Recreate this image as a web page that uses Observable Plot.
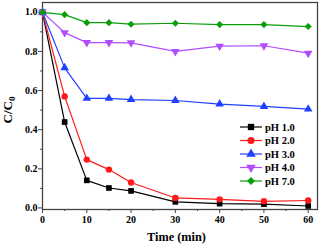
<!DOCTYPE html>
<html><head><meta charset="utf-8">
<script src="https://cdn.jsdelivr.net/npm/d3@7"></script>
<script src="https://cdn.jsdelivr.net/npm/@observablehq/plot@0.6"></script>
<style>
body{margin:0;background:#fff;}
#chart{position:relative;width:319px;height:247px;}
svg text{font-family:"Liberation Serif","Times New Roman",serif;font-weight:bold;}
</style></head><body><div id="chart"></div>
<script>
const times = [0, 5, 10, 15, 20, 30, 40, 50, 60];
const seriesNames = ["pH 1.0", "pH 2.0", "pH 3.0", "pH 4.0", "pH 7.0"];
const ph1 = [1.0, 0.439, 0.141, 0.102, 0.087, 0.031, 0.022, 0.019, 0.010];
const ph2 = [1.0, 0.570, 0.247, 0.196, 0.130, 0.051, 0.044, 0.034, 0.038];
const ph3 = [1.0, 0.716, 0.560, 0.560, 0.554, 0.549, 0.531, 0.519, 0.505];
const ph4 = [1.0, 0.896, 0.845, 0.845, 0.844, 0.800, 0.827, 0.829, 0.791];
const ph7 = [1.0, 0.988, 0.947, 0.947, 0.939, 0.944, 0.937, 0.937, 0.927];
const colors = ["#000000", "#ff1a1a", "#2040ff", "#b04dff", "#0a9f0a"];
const symbols = ["square", "circle", "triangle", "triangle", "diamond2"];
const rotations = [0, 0, 0, 180, 0];
const xTicks = [0, 10, 20, 30, 40, 50, 60];
const xMinor = [5, 15, 25, 35, 45, 55];
const yTicks = [0.0, 0.2, 0.4, 0.6, 0.8, 1.0];
const yMinor = [0.1, 0.3, 0.5, 0.7, 0.9];

const allSeries = [ph1, ph2, ph3, ph4, ph7];
const data = [];
allSeries.forEach((vals, si) => vals.forEach((v, i) => data.push({t: times[i], c: v, s: seriesNames[si]})));

const svg = Plot.plot({
  width: 319, height: 247,
  marginLeft: 42, marginTop: 2, marginRight: 2, marginBottom: 38,
  style: {fontFamily: '"Liberation Serif","Times New Roman",serif', fontWeight: "bold", fontSize: "10px", color: "#000", background: "#fff"},
  x: {domain: [0, 62.1]},
  y: {domain: [-0.008, 1.05]},
  color: {domain: seriesNames, range: colors},
  symbol: {domain: seriesNames, range: symbols},
  marks: [
    Plot.frame({stroke: "#444", strokeWidth: 1.3}),
    Plot.axisX(xTicks, {tickSize: 4, tickPadding: 2, tickFormat: d => String(d), stroke: "#444", label: null, fill: "#000"}),
    Plot.axisX(xMinor, {tickSize: 2, text: null, stroke: "#444", label: null}),
    Plot.axisY(yTicks, {tickSize: 4, tickPadding: 1, tickFormat: d => d.toFixed(1), stroke: "#444", label: null, fill: "#000"}),
    Plot.axisY(yMinor, {tickSize: 2, text: null, stroke: "#444", label: null}),
    Plot.line(data, {x: "t", y: "c", z: "s", stroke: "s", strokeWidth: 1.2}),
    Plot.dot(data, {x: "t", y: "c", symbol: "s", fill: "s", stroke: "none", r: 3.2,
      rotate: d => rotations[seriesNames.indexOf(d.s)]})
  ]
});
const chart = document.getElementById("chart");
chart.appendChild(svg);

const sel = d3.select(svg);
// axis titles
sel.append("text").attr("x", 176.5).attr("y", 241).attr("text-anchor", "middle")
  .attr("font-size", 12.3).attr("fill", "#000").text("Time (min)");
const yl = sel.append("text").attr("transform", "translate(12,110) rotate(-90)")
  .attr("text-anchor", "middle").attr("font-size", 13).attr("fill", "#000");
yl.append("tspan").text("C/C");
yl.append("tspan").attr("font-size", 9).attr("dy", 3).text("0");

// legend
const sym = d3.scaleOrdinal(seriesNames, [d3.symbolSquare, d3.symbolCircle, d3.symbolTriangle, d3.symbolTriangle, d3.symbolDiamond2]);
const lg = sel.append("g").attr("text-anchor", "start");
seriesNames.forEach((name, i) => {
  const y = 127 + i * 13.5;
  const g = lg.append("g").attr("transform", `translate(0,${y})`);
  g.append("line").attr("x1", 240).attr("x2", 262).attr("y1", 0).attr("y2", 0)
    .attr("stroke", colors[i]).attr("stroke-width", 1.2);
  g.append("path").attr("d", d3.symbol(sym(name), 40)())
    .attr("transform", `translate(251,0) rotate(${rotations[i]})`).attr("fill", colors[i]);
  g.append("text").attr("x", 265).attr("y", 3.5).attr("text-anchor", "start")
    .attr("font-size", 10.5).attr("fill", "#000").text(name);
});
</script></body></html>
